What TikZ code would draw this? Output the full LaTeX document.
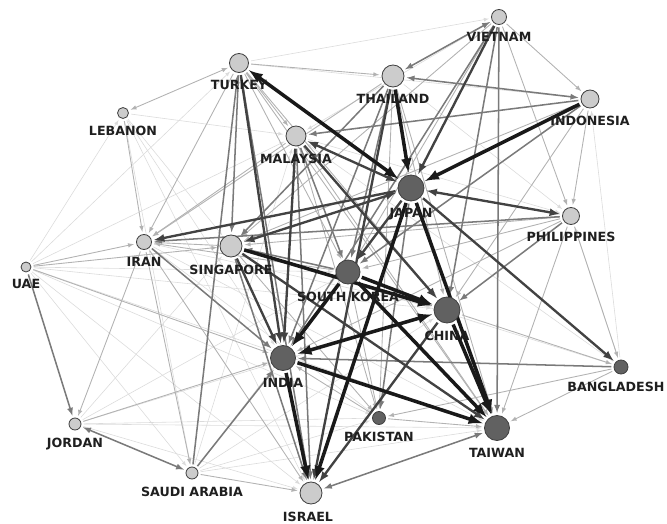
\documentclass[tikz,border=0pt]{standalone}
\usepackage{fontspec}
\newfontfamily\tagfont{DejaVu Sans}[BoldFont={DejaVu Sans Bold}]
\usetikzlibrary{arrows,positioning,backgrounds}
\colorlet{lite}{black!20}
\colorlet{deep}{black!62}

\begin{document}
\begin{tikzpicture}[x=0.03cm, y=-0.03cm,
	land/.style={circle, draw=black!75, line width=0.7pt, inner sep=0pt},
	tag/.style={font=\tagfont\bfseries\fontsize{10.8}{12}\selectfont, text=black!88, inner sep=0pt},
	link/.style={-latex, shorten >=2pt, shorten <=2pt},
	faint/.style={link, black!14, line width=0.5pt},
	light/.style={link, black!30, line width=0.75pt},
	mid/.style={link, black!52, line width=1.3pt},
	dark/.style={link, black!74, line width=2pt},
	heavy/.style={link, black!90, line width=3pt}]
	\useasboundingbox (0,0) rectangle (667,523);
	
	% countries (name/x/y/diameter/fill/label shift/label)
	\foreach \n/\x/\y/\d/\c/\s/\t in {vn/499/17/15/lite/0/VIETNAM, th/393/76/22/lite/0/THAILAND,
		idn/590/99/18/lite/0/INDONESIA, tr/239/63/19/lite/0/TURKEY, lb/123/113/11/lite/0/LEBANON,
		my/296/136/20/lite/0/MALAYSIA, jp/411/188/26/deep/0/JAPAN, ph/571/216/17/lite/0/PHILIPPINES,
		ir/144/242/15/lite/0/IRAN, sg/231/246/22/lite/0/SINGAPORE, ae/26/267/10/lite/0/UAE,
		kr/348/272/24/deep/0/SOUTH KOREA, cn/447/310/26/deep/0/CHINA, ind/283/358/25/deep/0/INDIA,
		bd/621/367/14/deep/-5/BANGLADESH, pk/379/418/13/deep/0/PAKISTAN, tw/497/428/25/deep/0/TAIWAN,
		jo/75/424/12/lite/0/JORDAN, sa/192/473/12/lite/0/SAUDI ARABIA, il/311/493/22/lite/-3/ISRAEL} {
		\node[land, fill=\c, minimum size=\d*0.03cm] (\n) at (\x,\y) {};
		\node[tag, below=6pt of \n, xshift=\s*0.03cm] (\n-t) {\t};
	}
	
	% links, weakest first
	\begin{scope}[on background layer]
		\foreach \a/\b in {ae/tr, ae/lb, ae/my, ae/sa, ae/il, ae/kr, ae/cn, ae/tw, lb/my, lb/sg,
			lb/sa, lb/ind, jo/il, jo/tw, jo/cn, jo/kr, jo/sg, sa/kr, sa/cn, sa/tw, sa/my, ir/cn,
			tr/idn, tr/vn, th/ph, my/ph, vn/my, bd/ph, bd/idn, ir/tw, lb/il, jo/pk, sa/pk, ir/pk,
			ae/pk, bd/sg, bd/my} {
			\draw[faint] (\a) -- (\b);
		}
		\foreach \a/\b in {tr/th, tr/my, tr/kr, tr/cn, tr/ir, tr/tw, lb/ir, ae/ir, ae/ind, ae/sg,
			ir/jo, ir/sa, ir/il, jo/ind, sa/il, vn/idn, vn/ph, idn/ph, ph/tw, ph/ind, ph/kr, ph/sg,
			ph/bd, th/cn, th/tw, th/pk, my/tw, my/pk, pk/ind, pk/tw, bd/tw, bd/pk, cn/bd, kr/pk,
			sg/pk, sg/ir, vn/kr, vn/sg, idn/sg, idn/cn, th/ir, my/ir, kr/ir} {
			\draw[light] (\a) -- (\b);
		}
		\draw[light, latex-latex] (lb) -- (tr);
		\foreach \a/\b in {idn/my, ph/cn, bd/ind, ae/jo, tr/sg, sa/tr, vn/cn, vn/tw, idn/kr,
			th/ind, th/kr, th/sg, my/kr, ir/ind, ph/ir, kr/sg, tr/il, my/il, vn/ind, jp/pk,
			sa/ind, sg/il} {
			\draw[mid] (\a) -- (\b);
		}
		\foreach \a/\b in {vn/th, idn/th, il/tw, sa/jo} {
			\draw[mid, latex-latex] (\a) -- (\b);
		}
		\foreach \a/\b in {vn/jp, tr/ind, my/ind, jp/bd, sg/tw, th/il, cn/il, sg/ind, jp/ir,
			jp/kr, my/cn} {
			\draw[dark] (\a) -- (\b);
		}
		\foreach \a/\b in {ph/jp, sg/jp, my/jp} {
			\draw[dark, latex-latex] (\a) -- (\b);
		}
		\foreach \a/\b in {th/jp, idn/jp, jp/tw, kr/ind, ind/tw, jp/il, ind/il, sg/cn, kr/cn,
			cn/tw, kr/tw} {
			\draw[heavy] (\a) -- (\b);
		}
		\foreach \a/\b in {tr/jp, cn/ind} {
			\draw[heavy, latex-latex] (\a) -- (\b);
		}
	\end{scope}
\end{tikzpicture}
\end{document}
